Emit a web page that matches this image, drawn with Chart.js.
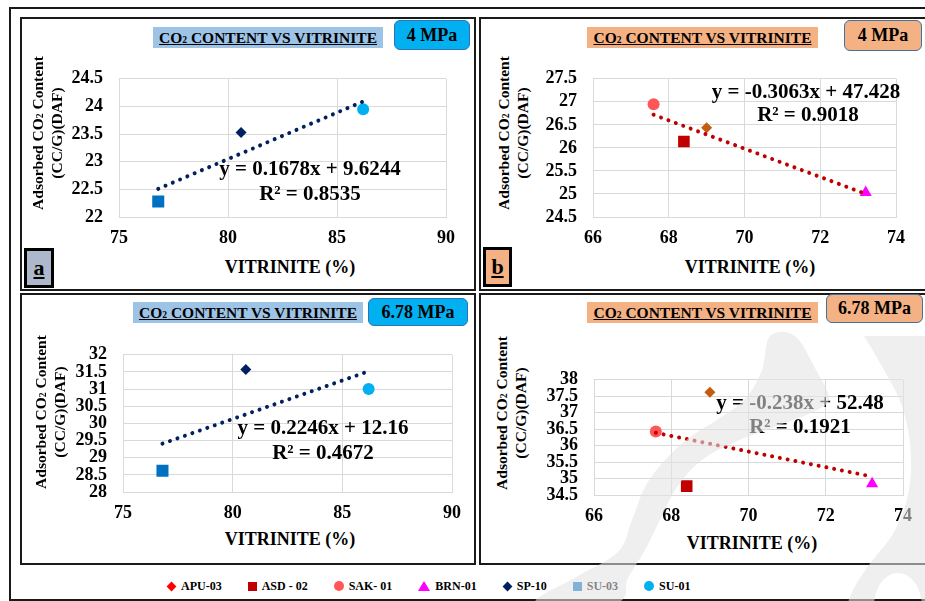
<!DOCTYPE html>
<html>
<head>
<meta charset="utf-8">
<script src="https://cdn.jsdelivr.net/npm/chart.js@4.4.1/dist/chart.umd.min.js"></script>
<style>
  body { margin: 0; width: 925px; height: 601px; background: #fff; position: relative; overflow: hidden;
         font-family: 'Liberation Serif', 'Times New Roman', 'DejaVu Serif', 'Noto Serif', serif; font-weight: bold; color: #000; }
  .abs { position: absolute; box-sizing: border-box; }
  .frame { border: 2px solid #1a1a1a; }
  .txt { position: absolute; white-space: nowrap; transform: translate(-50%, -50%); line-height: 1; }
  .ytitle { position: absolute; white-space: nowrap; text-align: center; font-size: 15.5px; line-height: 17px;
            transform: translate(-50%, -50%) rotate(-90deg); }
  .xtitle { font-size: 18px; }
  .eq { font-size: 21px; }
  .ttl { display: flex; align-items: center; justify-content: center; font-size: 15.5px; }
  .ttl span.u { text-decoration: underline; white-space: nowrap; }
  .sub { font-size: 0.62em; }
  .mpa { display: flex; align-items: center; justify-content: center; font-size: 18px; border-radius: 6px; }
  .lbl { display: flex; align-items: center; justify-content: center; border: 3px solid #000; font-size: 22px; text-decoration: underline; }
  canvas { position: absolute; }
  #legend { position: absolute; left: 167px; top: 578px; height: 16px; display: flex; align-items: center; gap: 26px; font-size: 12px; }
  #legend .it { display: flex; align-items: center; gap: 5px; }
  #mark { position: absolute; left: 0; top: 0; pointer-events: none; }
</style>
</head>
<body>
<div class="abs frame" style="left:9px;top:7px;width:940px;height:594px"></div>
<div class="abs frame" style="left:20px;top:17px;width:456px;height:274px"></div>
<div class="abs frame" style="left:479px;top:17px;width:460px;height:274px"></div>
<div class="abs frame" style="left:20px;top:293px;width:456px;height:272px"></div>
<div class="abs frame" style="left:479px;top:293px;width:460px;height:272px"></div>

<canvas id="chartA" width="407" height="199" style="left:59px;top:52px"></canvas>
<canvas id="chartB" width="383" height="199" style="left:533px;top:52px"></canvas>
<canvas id="chartC" width="409" height="198" style="left:63px;top:328px"></canvas>
<canvas id="chartD" width="389" height="176" style="left:534px;top:353px"></canvas>

<div id="legend"></div>

<script>
// vitrinite (%) of the wells
const wellsNorth = ['SU-03', 'SP-10', 'SU-01'];
const vitriniteNorth = [76.8, 80.6, 86.2];
const co2North4 = [22.28, 23.53, 23.95];     // panel a, 4 MPa
const co2North678 = [28.62, 31.57, 31.0];    // panel c, 6.78 MPa

const wellsSouth = ['SAK-01', 'ASD-02', 'APU-03', 'BRN-01'];
const vitriniteSouth = [67.6, 68.4, 69.0, 73.2];
const co2South4 = [26.95, 26.14, 26.44, 25.03];   // panel b
const co2South678 = [36.43, 34.77, 37.62, 34.84]; // panel d

// linear trend ends (first and last well)
const trendXNorth = [76.8, 86.2];
const trendXSouth = [67.6, 73.2];
const trendA = [22.51, 24.09];
const trendB = [26.72, 25.0];
const trendC = [29.41, 31.52];
const trendD = [36.39, 35.06];

const eqA = ['y = 0.1678x + 9.6244', 'R² = 0.8535'];
const eqB = ['y = -0.3063x + 47.428', 'R² = 0.9018'];
const eqC = ['y = 0.2246x + 12.16', 'R² = 0.4672'];
const eqD = ['y = -0.238x + 52.48', 'R² = 0.1921'];

const legendWells = ['APU-03', 'ASD - 02', 'SAK- 01', 'BRN-01', 'SP-10', 'SU-03', 'SU-01'];

const WELL_STYLE = {
  'SU-03': { color: '#0070c0', shape: 'rect', r: 8.5 },
  'SP-10': { color: '#002060', shape: 'rectRot', r: 5.5 },
  'SU-01': { color: '#00b0f0', shape: 'circle', r: 6 },
  'SAK-01': { color: '#ff5757', shape: 'circle', r: 6 },
  'ASD-02': { color: '#c00000', shape: 'rect', r: 8.2 },
  'APU-03': { color: '#c55a11', shape: 'rectRot', r: 5.5 },
  'BRN-01': { color: '#ff00ff', shape: 'triangle', r: 7 },
};
const LEGEND_STYLE = [
  { color: '#ff0000', shape: 'diamond' },
  { color: '#c00000', shape: 'square' },
  { color: '#ff5757', shape: 'circle' },
  { color: '#ff00ff', shape: 'triangle' },
  { color: '#002060', shape: 'diamond' },
  { color: '#0070c0', shape: 'square' },
  { color: '#00b0f0', shape: 'circle' },
];

const SERIF = "'Liberation Serif', 'Times New Roman', 'DejaVu Serif', 'Noto Serif', serif";
const GRID = '#d9d9d9';
const tickFont = { family: SERIF, size: 18, weight: 'bold', lineHeight: 1.2 };

function renderPanel(canvasId, wells, xs, ys, trendX, trendY, trendColor, xr, yr) {
  const datasets = [{
    data: trendX.map((x, i) => ({ x, y: trendY[i] })),
    showLine: true,
    pointRadius: 0,
    borderColor: trendColor,
    borderWidth: 4,
    borderCapStyle: 'round',
    borderDash: [0.01, 7.9],
  }];
  wells.forEach((w, i) => {
    const s = WELL_STYLE[w];
    datasets.push({
      label: w,
      data: [{ x: xs[i], y: ys[i] }],
      pointStyle: s.shape,
      pointRadius: s.r,
      backgroundColor: s.color,
      borderColor: s.color,
      borderWidth: 0,
    });
  });

  const axis = (min, max, step, pad) => ({
    type: 'linear',
    min, max,
    grid: { color: GRID, drawTicks: false },
    border: { color: GRID },
    ticks: { stepSize: step, color: '#000', font: tickFont, padding: pad, autoSkip: false,
             maxRotation: 0, callback: (v) => String(v) },
  });

  const x = axis(xr[0], xr[1], xr[2], 11);
  x.afterFit = (s) => { s.height = 34; };
  const y = axis(yr[0], yr[1], 0.5, 16);
  y.afterFit = (s) => { s.width = 60; };

  return new Chart(document.getElementById(canvasId), {
    type: 'scatter',
    data: { datasets },
    options: {
      responsive: false,
      animation: false,
      devicePixelRatio: 1,
      layout: { padding: { top: 14, right: 14, left: 0, bottom: 0 } },
      plugins: { legend: { display: false }, tooltip: { enabled: false } },
      scales: { x, y },
    },
  });
}

renderPanel('chartA', wellsNorth, vitriniteNorth, co2North4, trendXNorth, trendA, '#002060', [75, 90, 5], [22, 24.5]);
renderPanel('chartB', wellsSouth, vitriniteSouth, co2South4, trendXSouth, trendB, '#c00000', [66, 74, 2], [24.5, 27.5]);
renderPanel('chartC', wellsNorth, vitriniteNorth, co2North678, trendXNorth, trendC, '#002060', [75, 90, 5], [28, 32]);
renderPanel('chartD', wellsSouth, vitriniteSouth, co2South678, trendXSouth, trendD, '#c00000', [66, 74, 2], [34.5, 38]);

// text and boxes around the plots
function put(html, cls, cx, cy) {
  const d = document.createElement('div');
  d.className = cls;
  d.innerHTML = html;
  d.style.left = cx + 'px';
  d.style.top = cy + 'px';
  document.body.appendChild(d);
  return d;
}
function box(html, cls, l, t, w, h, bg, border) {
  const d = document.createElement('div');
  d.className = 'abs ' + cls;
  d.innerHTML = html;
  Object.assign(d.style, { left: l + 'px', top: t + 'px', width: w + 'px', height: h + 'px', background: bg });
  if (border) d.style.border = border;
  document.body.appendChild(d);
}

const titleText = '<span class="u">CO<span class="sub">2</span> CONTENT VS VITRINITE</span>';
const yTitle = 'Adsorbed CO<span class="sub">2</span> Content<br>(CC/G)(DAF)';

box(titleText, 'ttl', 153, 27, 230, 21, '#9dc3e6');
box(titleText, 'ttl', 587, 27, 231, 21, '#f4b183');
box(titleText, 'ttl', 133, 302, 230, 21, '#9dc3e6');
box(titleText, 'ttl', 587, 302, 231, 21, '#f4b183');

box('4 MPa', 'mpa', 394, 20, 76, 30, '#00b0f0', '1.5px solid #2e75b6');
box('4 MPa', 'mpa', 844, 20, 78, 31, '#f4b183', '1.5px solid #41719c');
box('6.78 MPa', 'mpa', 368, 298, 100, 28, '#00b0f0', '1.5px solid #2e75b6');
box('6.78 MPa', 'mpa', 826, 294, 97, 29, '#f4b183', '1.5px solid #41719c');

box('a', 'lbl', 24, 248, 30, 40, '#adb9ca');
box('b', 'lbl', 483, 247, 29, 40, '#f4b183');

put(yTitle, 'ytitle', 46.5, 133);
put(yTitle, 'ytitle', 512.5, 133);
put(yTitle, 'ytitle', 50, 412);
put(yTitle, 'ytitle', 511, 413);

put('VITRINITE (%)', 'txt xtitle', 290, 267);
put('VITRINITE (%)', 'txt xtitle', 750, 267);
put('VITRINITE (%)', 'txt xtitle', 290, 539);
put('VITRINITE (%)', 'txt xtitle', 752, 543);

put(eqA[0], 'txt eq', 310, 168); put(eqA[1], 'txt eq', 310, 193);
put(eqB[0], 'txt eq', 806, 91);  put(eqB[1], 'txt eq', 808, 114);
put(eqC[0], 'txt eq', 323, 427); put(eqC[1], 'txt eq', 323, 452);
put(eqD[0], 'txt eq', 800, 402); put(eqD[1], 'txt eq', 800, 426);

// shared legend
const legend = document.getElementById('legend');
legendWells.forEach((name, i) => {
  const s = LEGEND_STYLE[i];
  const it = document.createElement('div');
  it.className = 'it';
  const m = document.createElement('span');
  if (s.shape === 'diamond') {
    Object.assign(m.style, { width: '7px', height: '7px', background: s.color, transform: 'rotate(45deg)', margin: '0 1px' });
  } else if (s.shape === 'square') {
    Object.assign(m.style, { width: '9px', height: '9px', background: s.color });
  } else if (s.shape === 'circle') {
    Object.assign(m.style, { width: '10px', height: '10px', background: s.color, borderRadius: '50%' });
  } else {
    Object.assign(m.style, { width: 0, height: 0, borderLeft: '6px solid transparent', borderRight: '6px solid transparent',
                             borderBottom: '10px solid ' + s.color });
  }
  m.style.display = 'inline-block';
  it.appendChild(m);
  const t = document.createElement('span');
  t.textContent = name;
  it.appendChild(t);
  legend.appendChild(it);
});

// faint watermark lying over the lower right panel (not data)
function smoothPath(pts) {
  // closed Catmull-Rom through the outline points
  const n = pts.length;
  let d = `M ${pts[0][0]} ${pts[0][1]}`;
  for (let i = 0; i < n; i++) {
    const p0 = pts[(i - 1 + n) % n], p1 = pts[i], p2 = pts[(i + 1) % n], p3 = pts[(i + 2) % n];
    const c1 = [p1[0] + (p2[0] - p0[0]) / 6, p1[1] + (p2[1] - p0[1]) / 6];
    const c2 = [p2[0] - (p3[0] - p1[0]) / 6, p2[1] - (p3[1] - p1[1]) / 6];
    d += ` C ${c1[0]} ${c1[1]} ${c2[0]} ${c2[1]} ${p2[0]} ${p2[1]}`;
  }
  return d + ' Z';
}
const swooshLeft = [
  [770, 336], [762, 370], [746, 398], [720, 418], [690, 437], [664, 461], [645, 487], [632, 520],
  [618, 552], [578, 576], [536, 603], [616, 603], [628, 578], [645, 550], [660, 520], [677, 487],
  [702, 460], [737, 441], [777, 426], [815, 411], [829, 398], [816, 370], [795, 336],
];
const NS = 'http://www.w3.org/2000/svg';
const svg = document.createElementNS(NS, 'svg');
svg.setAttribute('id', 'mark');
svg.setAttribute('width', 925);
svg.setAttribute('height', 601);
const shade = 'rgba(227,227,227,0.57)';
const pL = document.createElementNS(NS, 'path');
pL.setAttribute('d', smoothPath(swooshLeft));
pL.setAttribute('fill', shade);
svg.appendChild(pL);
const pR = document.createElementNS(NS, 'path');
pR.setAttribute('d', 'M 864 336 L 930 336 L 930 603 L 848 603 C 852 586 872 560 886 544 C 900 526 910 500 911 470 ' +
  'C 912 440 906 410 894 388 C 884 370 874 352 864 336 Z M 874 603 C 876 585 886 573 898 573 C 910 573 920 585 922 603 Z');
pR.setAttribute('fill', shade);
pR.setAttribute('fill-rule', 'evenodd');
svg.appendChild(pR);
document.body.appendChild(svg);
</script>
</body>
</html>
